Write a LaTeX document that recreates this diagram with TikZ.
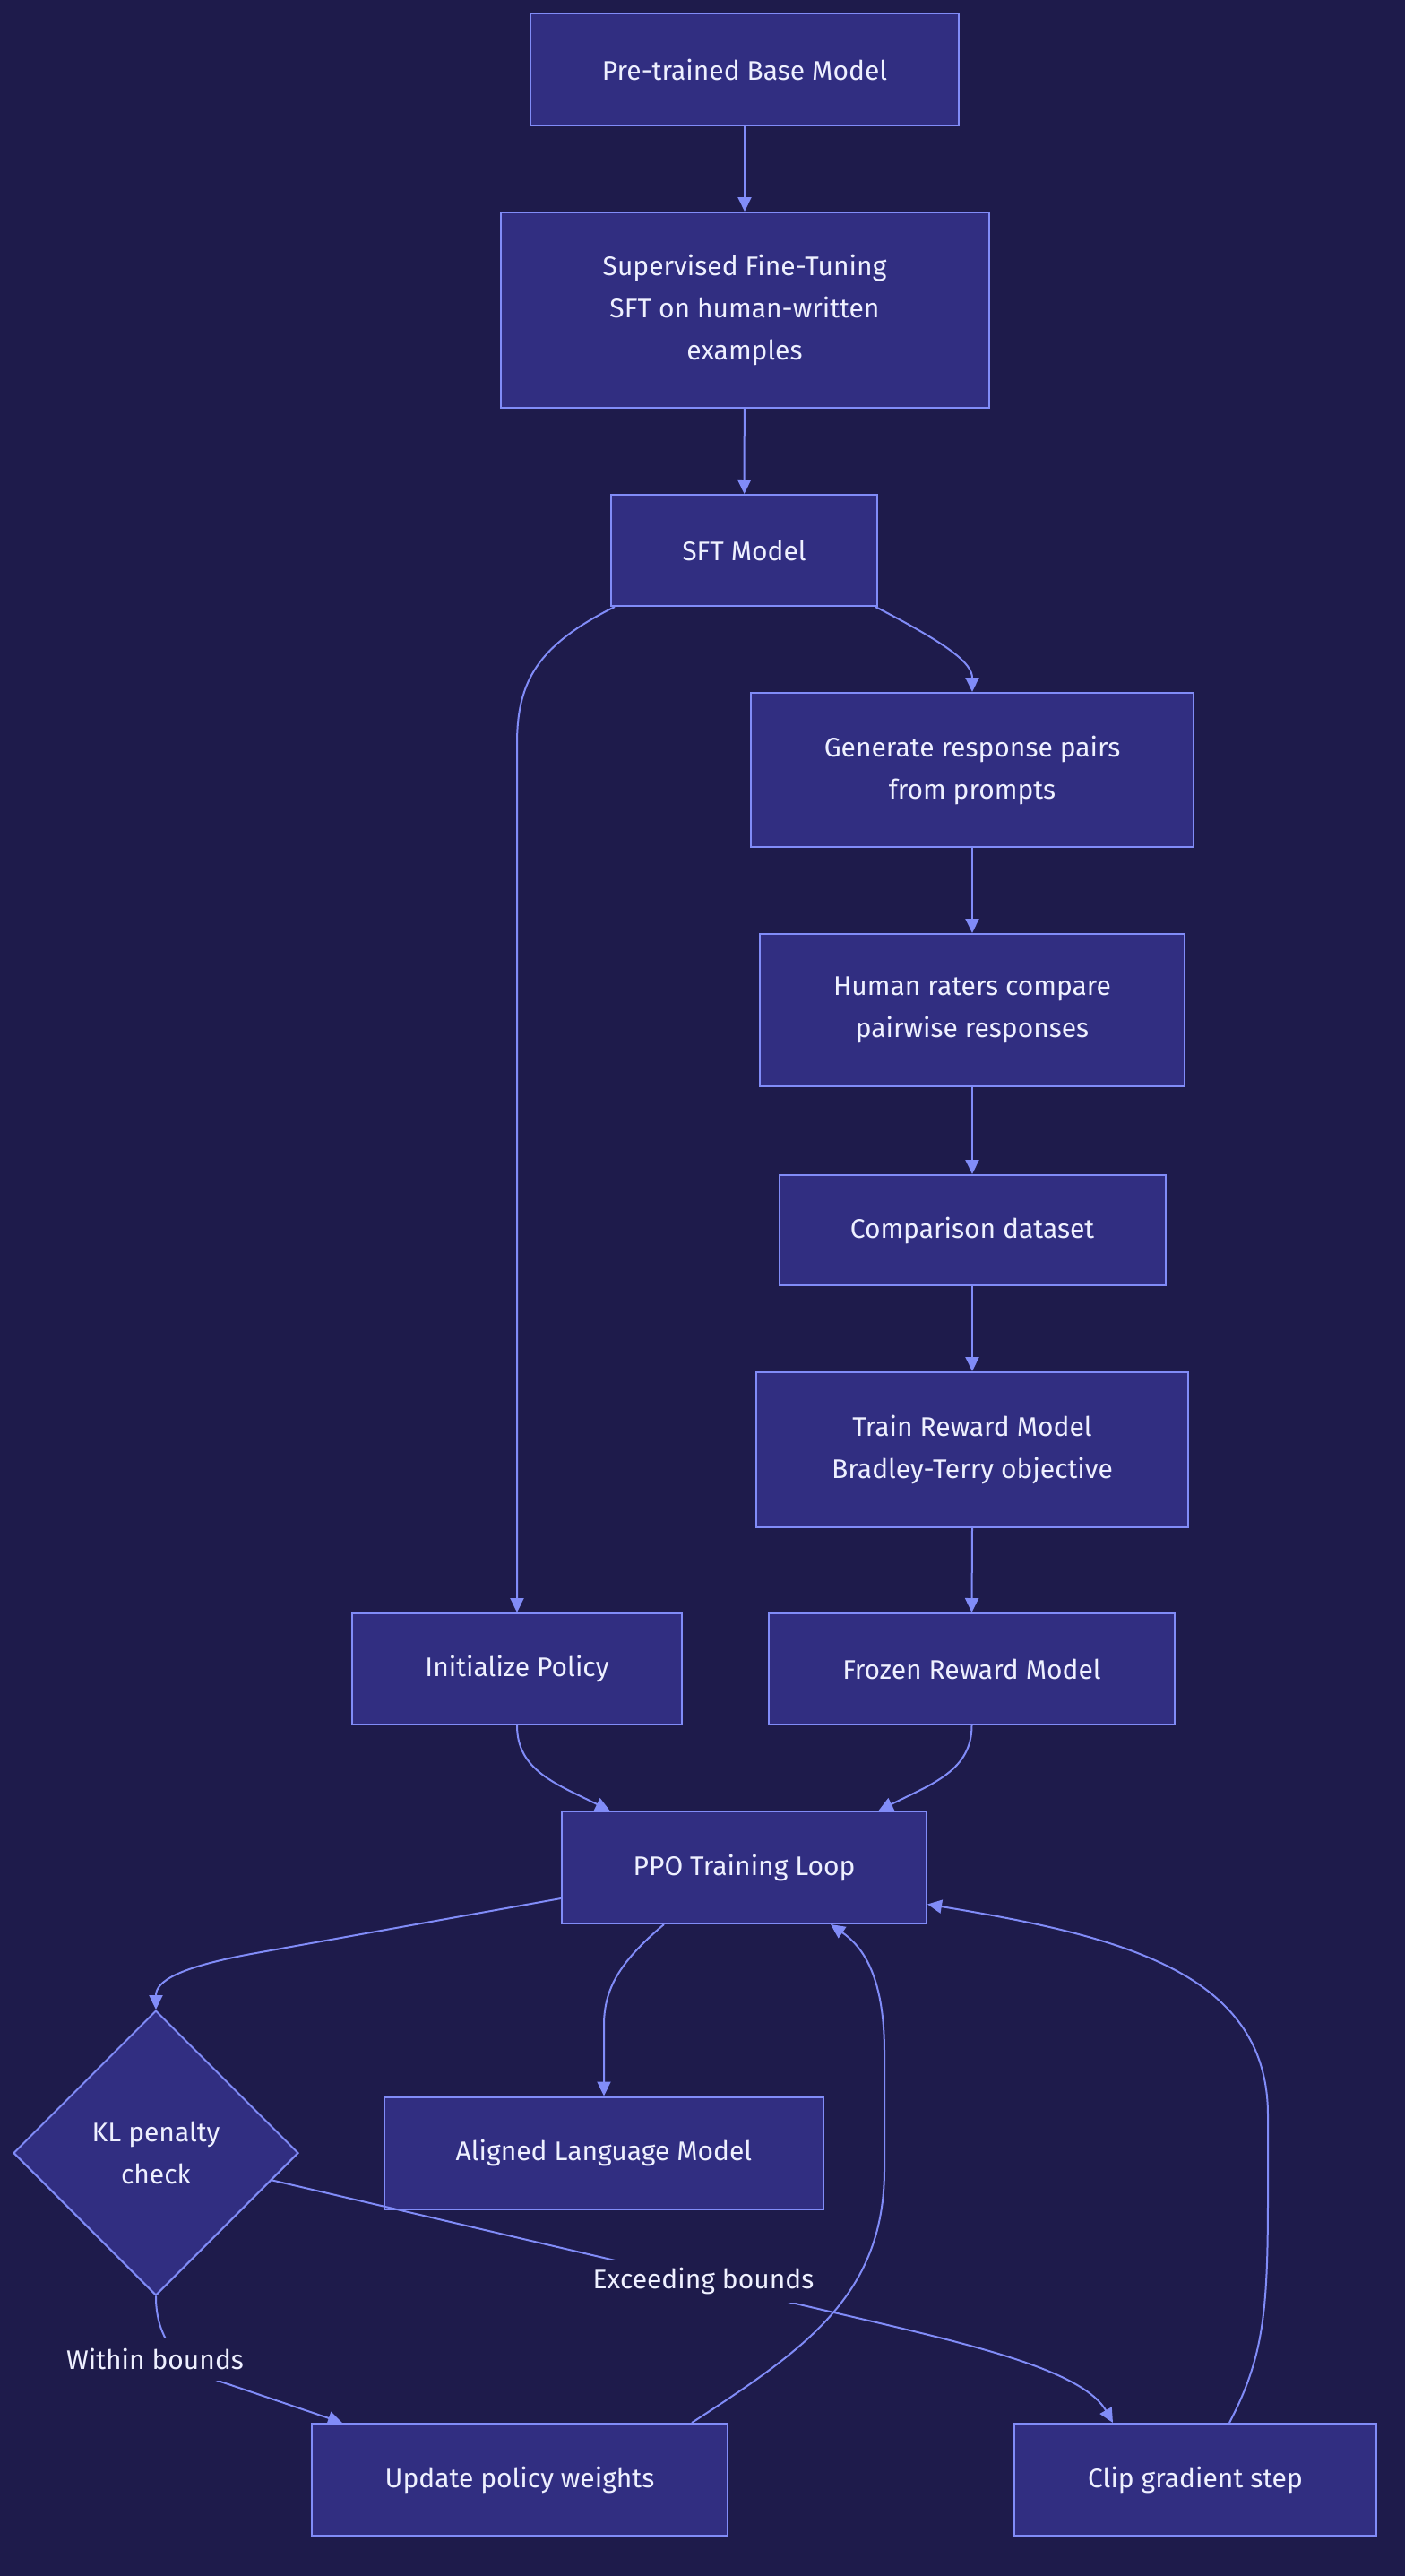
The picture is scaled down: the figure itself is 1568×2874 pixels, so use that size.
\documentclass[tikz,border=0pt]{standalone}
\usepackage{fontspec}
\setmainfont{Fira Sans}
\usetikzlibrary{arrows.meta,shapes.geometric,calc}
\definecolor{bgc}{RGB}{30,27,75}
\definecolor{nodefill}{RGB}{49,46,129}
\definecolor{nodeline}{RGB}{129,140,248}
\definecolor{txt}{RGB}{238,240,255}
\tikzset{
  box/.style={draw=nodeline, fill=nodefill, line width=2pt, text=txt, align=center,
    inner sep=0pt, font=\fontsize{30}{47}\selectfont},
  dia/.style={diamond, draw=nodeline, fill=nodefill, line width=2pt, text=txt, align=center,
    inner sep=0pt, minimum width=318pt, minimum height=318pt, font=\fontsize{30}{47}\selectfont},
  edge/.style={draw=nodeline, line width=2pt, -{Triangle[length=16pt,width=15pt]}},
  lbl/.style={fill=bgc, text=txt, inner xsep=1pt, inner ysep=0pt, minimum height=47pt,
    font=\fontsize{30}{47}\selectfont}
}
\begin{document}
\begin{tikzpicture}[x=1pt,y=-1pt]
\fill[bgc] (0,0) rectangle (1568,2874);
\useasboundingbox (0,0) rectangle (1568,2874);

\node[box, minimum width=478pt, minimum height=125pt] (base) at (831,77.5) {Pre-trained Base Model};
\node[box, minimum width=545pt, minimum height=218pt] (sft) at (831,346) {Supervised Fine-Tuning\\SFT on human-written\\examples};
\node[box, minimum width=297pt, minimum height=124pt] (sftm) at (830.5,614) {SFT Model};
\node[box, minimum width=494pt, minimum height=172pt] (gen) at (1085,859) {Generate response pairs\\from prompts};
\node[box, minimum width=474pt, minimum height=170pt] (human) at (1085,1127) {Human raters compare\\pairwise responses};
\node[box, minimum width=431pt, minimum height=123pt] (comp) at (1085,1372.5) {Comparison dataset};
\node[box, minimum width=482pt, minimum height=173pt] (train) at (1085,1617.5) {Train Reward Model\\Bradley-Terry objective};
\node[box, minimum width=368pt, minimum height=124pt] (init) at (577,1862) {Initialize Policy};
\node[box, minimum width=453pt, minimum height=124pt] (frozen) at (1084.5,1862) {Frozen Reward Model};
\node[box, minimum width=407pt, minimum height=125pt] (ppo) at (830.5,2083.5) {PPO Training Loop};
\node[dia] (kl) at (174,2402) {KL penalty\\check};
\node[box, minimum width=490pt, minimum height=125pt] (aligned) at (674,2402) {Aligned Language Model};
\node[box, minimum width=464pt, minimum height=125pt] (update) at (580,2766.5) {Update policy weights};
\node[box, minimum width=404pt, minimum height=125pt] (clip) at (1334,2766.5) {Clip gradient step};

\draw[edge] (base) -- (sft);
\draw[edge] (sft) -- (sftm);
\draw[edge] ([xshift=5pt]sftm.south west) .. controls (600,720) and (577,760) .. (577,830) -- (init.north);
\draw[edge] ([xshift=-3pt]sftm.south east) .. controls (1060,720) and (1085,740) .. (gen.north);
\draw[edge] (gen) -- (human);
\draw[edge] (human) -- (comp);
\draw[edge] (comp) -- (train);
\draw[edge] (train.south) -- (frozen.north);
\draw[edge] (init.south) .. controls (577,1975) and (620,1990) .. ([xshift=-150pt]ppo.north);
\draw[edge] (frozen.south) .. controls (1084.5,1975) and (1041,1990) .. ([xshift=150pt]ppo.north);
\draw[edge] ([yshift=-34.5pt]ppo.west) -- (280,2180) .. controls (200,2195) and (174,2210) .. (kl.north);
\draw[edge] ([xshift=-89.5pt]ppo.south) .. controls (690,2190) and (674,2220) .. (674,2260) -- (aligned.north);
\draw[edge] (kl.south) .. controls (174,2600) and (190,2640) .. (255,2660) -- ([xshift=-198pt]update.north);
\draw[edge] ($(kl.east)!0.19!(kl.south)$) -- (785,2545) .. controls (1000,2600) and (1200,2630) .. ([xshift=-92pt]clip.north);
\draw[edge] ([xshift=192pt]update.north) .. controls (900,2620) and (987,2560) .. (987,2420) -- (987,2290) .. controls (987,2200) and (960,2170) .. ([xshift=96.5pt]ppo.south);
\draw[edge] ([xshift=38pt]clip.north) .. controls (1410,2630) and (1415,2580) .. (1415,2450) -- (1415,2360) .. controls (1415,2200) and (1250,2160) .. ([yshift=-41pt]ppo.east);

\node[lbl] (within) at (173,2632) {Within bounds};
\node[lbl] (exceed) at (785,2545) {Exceeding bounds};
\end{tikzpicture}
\end{document}
